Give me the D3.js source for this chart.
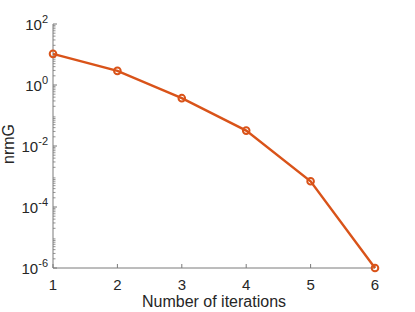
<!DOCTYPE html>
<html>
<head>
<meta charset="utf-8">
<script src="https://cdn.jsdelivr.net/npm/d3@7"></script>
<style>
  body { margin: 0; background: #fff; }
  text { font-family: "Liberation Sans", Arial, sans-serif; fill: #262626; }
</style>
</head>
<body>
<div id="chart"></div>
<script>
// data
var iterations = [1, 2, 3, 4, 5, 6];
var nrmG = [10.5, 2.9, 0.37, 0.032, 7e-4, 1e-6];
var xTicks = [1, 2, 3, 4, 5, 6];
var yTickExps = [2, 0, -2, -4, -6];

var svgWidth = 415, svgHeight = 312;
var margin = { top: 24, right: 40, bottom: 44, left: 53 };
var width = 375 - margin.left;
var height = 268 - margin.top;

var svg = d3.select("#chart").append("svg")
    .attr("width", svgWidth)
    .attr("height", svgHeight);

var g = svg.append("g")
    .attr("transform", `translate(${margin.left}, ${margin.top})`);

var x = d3.scaleLinear().domain([1, 6]).range([0, width]);
var y = d3.scaleLog().domain([1e-6, 1e2]).range([height, 0]);

var axisColor = "#7a7a7a";

// minor ticks on the log axis (2..9 per decade)
var minor = [];
for (var e = -6; e < 2; e++) {
    for (var m = 2; m <= 9; m++) minor.push(m * Math.pow(10, e));
}
g.selectAll(".minor").data(minor).enter().append("line")
    .attr("x1", 0).attr("x2", 2.5)
    .attr("y1", d => y(d)).attr("y2", d => y(d))
    .attr("stroke", axisColor).attr("stroke-width", 0.8);

// major y ticks
g.selectAll(".major").data(yTickExps).enter().append("line")
    .attr("x1", 0).attr("x2", 4)
    .attr("y1", d => y(Math.pow(10, d))).attr("y2", d => y(Math.pow(10, d)))
    .attr("stroke", axisColor).attr("stroke-width", 1);

var yLab = g.selectAll(".ylab").data(yTickExps).enter().append("text")
    .attr("x", -5)
    .attr("y", d => y(Math.pow(10, d)) + 6)
    .attr("text-anchor", "end")
    .attr("font-size", "15px");
yLab.append("tspan").text("10");
yLab.append("tspan").attr("dy", -7).attr("font-size", "11px").text(d => d);

// x ticks
g.selectAll(".xt").data(xTicks).enter().append("line")
    .attr("x1", d => x(d)).attr("x2", d => x(d))
    .attr("y1", height).attr("y2", height - 4)
    .attr("stroke", axisColor).attr("stroke-width", 1);

g.selectAll(".xlab").data(xTicks).enter().append("text")
    .attr("x", d => x(d))
    .attr("y", height + 22)
    .attr("text-anchor", "middle")
    .attr("font-size", "15px")
    .text(d => d);

// axis lines (box off)
g.append("line").attr("x1", 0).attr("x2", 0).attr("y1", 0).attr("y2", height)
    .attr("stroke", axisColor).attr("stroke-width", 1);
g.append("line").attr("x1", 0).attr("x2", width).attr("y1", height).attr("y2", height)
    .attr("stroke", axisColor).attr("stroke-width", 1);

// the series
var line = d3.line()
    .x((d, i) => x(iterations[i]))
    .y(d => y(d));

g.append("path")
    .datum(nrmG)
    .attr("d", line)
    .attr("fill", "none")
    .attr("stroke", "#D95319")
    .attr("stroke-width", 2.4);

g.selectAll(".pt").data(nrmG).enter().append("circle")
    .attr("cx", (d, i) => x(iterations[i]))
    .attr("cy", d => y(d))
    .attr("r", 3.3)
    .attr("fill", "none")
    .attr("stroke", "#D95319")
    .attr("stroke-width", 2);

// axis labels
g.append("text")
    .attr("x", width / 2)
    .attr("y", height + 39)
    .attr("text-anchor", "middle")
    .attr("font-size", "16px")
    .text("Number of iterations");

g.append("text")
    .attr("transform", `translate(${-39}, ${height / 2 - 2}) rotate(-90)`)
    .attr("text-anchor", "middle")
    .attr("font-size", "16px")
    .text("nrmG");
</script>
</body>
</html>
